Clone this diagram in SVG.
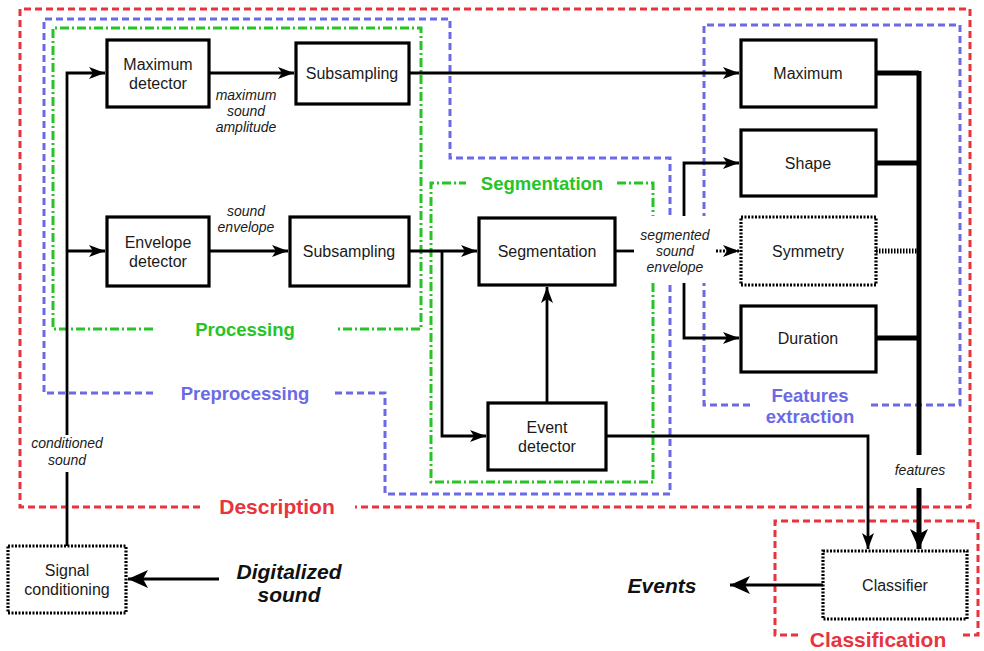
<svg xmlns="http://www.w3.org/2000/svg" width="984" height="651" viewBox="0 0 984 651">
<style>
.node{fill:#fff;stroke:#000;stroke-width:3.2}
.dot{fill:#fff;stroke:#000;stroke-width:3.2;stroke-dasharray:2 1.5}
.t{font-family:"Liberation Sans",Arial,sans-serif;font-size:16px;text-anchor:middle;fill:#1a1a1a}
.it{font-family:"Liberation Sans",Arial,sans-serif;font-size:14px;font-style:italic;text-anchor:middle;fill:#1a1a1a}
.big{font-family:"Liberation Sans",Arial,sans-serif;font-size:21px;font-style:italic;font-weight:bold;text-anchor:middle;fill:#111}
.red{fill:none;stroke:#e8343c;stroke-width:3;stroke-dasharray:7 4}
.blue{fill:none;stroke:#6a6ae6;stroke-width:3;stroke-dasharray:7 4}
.green{fill:none;stroke:#26c426;stroke-width:3;stroke-dasharray:9 3 2 3}
.gl{font-family:"Liberation Sans",Arial,sans-serif;font-weight:bold;text-anchor:middle}
.c{fill:none;stroke:#000;stroke-width:2.8}
.ct{fill:none;stroke:#000;stroke-width:5}
</style>
<defs>
<marker id="a" markerUnits="userSpaceOnUse" markerWidth="18" markerHeight="14" refX="16" refY="6" orient="auto" viewBox="0 0 18 14"><path d="M0,0 L16,6 L0,12 L4,6 z" fill="#000"/></marker>
<marker id="A" markerUnits="userSpaceOnUse" markerWidth="22" markerHeight="20" refX="20" refY="9" orient="auto" viewBox="0 0 22 20"><path d="M0,0 L20,9 L0,18 L5,9 z" fill="#000"/></marker>
</defs>
<rect width="984" height="651" fill="#fff"/>

<g id="groups">
<g id="description"><path class="red" d="M200,507 L20,507 L20,9 L970,9 L970,507 L355,507"/><text class="gl" x="277" y="514" font-size="21" fill="#e8343c">Description</text></g>
<g id="preprocessing"><path class="blue" d="M153,393 L44,393 L44,19 L450,19 L450,158 L670,158 L670,494 L385,494 L385,393 L335,393"/><text class="gl" x="245" y="400" font-size="18.5" fill="#6a6ae6">Preprocessing</text></g>
<g id="processing"><path class="green" d="M153,329 L53,329 L53,28 L421,28 L421,329 L335,329"/><text class="gl" x="245" y="336" font-size="18.5" fill="#26c426">Processing</text></g>
<g id="segmentation-group"><path class="green" d="M617,183 L653,183 L653,482 L431,482 L431,183 L466,183"/><text class="gl" x="542" y="190" font-size="18.5" fill="#26c426">Segmentation</text></g>
<g id="features-group"><path class="blue" d="M750,405 L704,405 L704,25 L960,25 L960,405 L870,405"/><text class="gl" x="810" y="402" font-size="18.5" fill="#6a6ae6">Features</text><text class="gl" x="810" y="423" font-size="18.5" fill="#6a6ae6">extraction</text></g>
<g id="classification"><path class="red" d="M798,635 L775,635 L775,521 L978,521 L978,635 L960,635"/><text class="gl" x="878" y="647" font-size="21" fill="#e8343c">Classification</text></g>
</g>

<g id="connectors">
<path class="c" d="M67,546 L67,472"/>
<path class="c" d="M67,435 L67,73 L105,73" marker-end="url(#a)"/>
<path class="c" d="M67,251 L105,251" marker-end="url(#a)"/>
<path class="c" d="M209,73 L294,73" marker-end="url(#a)"/>
<path class="c" d="M209,251 L288,251" marker-end="url(#a)"/>
<path class="c" d="M409,73 L739,73" marker-end="url(#a)"/>
<path class="c" d="M409,251 L477,251" marker-end="url(#a)"/>
<path class="c" d="M442,251 L442,436 L486,436" marker-end="url(#a)"/>
<path class="c" d="M547,403 L547,287" marker-end="url(#a)"/>
<path class="c" d="M606,436 L868,436 L868,549" marker-end="url(#a)"/>
<path class="c" d="M684,216 L684,163 L739,163" marker-end="url(#a)"/>
<path class="c" d="M684,283 L684,338 L739,338" marker-end="url(#a)"/>
<rect x="635" y="216" width="80" height="67" fill="#fff"/>
<path class="c" d="M615,251 L634,251"/>
<path class="c" d="M716,251 L739,251" stroke-dasharray="2 1.5" marker-end="url(#a)"/>
<path class="ct" d="M876,73 L919,73 M876,163 L919,163 M876,338 L919,338 M919,71 L919,455"/>
<path class="ct" d="M876,251 L917,251" stroke-dasharray="1.5 1.5"/>
<path class="ct" d="M919,488 L919,549" marker-end="url(#A)"/>
<path class="c" d="M219,579 L128,579" marker-end="url(#A)"/>
<path class="c" d="M823,585 L730,585" marker-end="url(#A)"/>
<text class="it" x="67" y="448">conditioned</text>
<text class="it" x="67" y="465">sound</text>
<text class="it" x="246" y="100">maximum</text>
<text class="it" x="246" y="116">sound</text>
<text class="it" x="246" y="132">amplitude</text>
<text class="it" x="246" y="216">sound</text>
<text class="it" x="246" y="232">envelope</text>
<text class="it" x="675" y="240">segmented</text>
<text class="it" x="675" y="256">sound</text>
<text class="it" x="675" y="272">envelope</text>
<text class="it" x="920" y="475">features</text>
</g>

<g id="maximum-detector"><rect class="node" x="107" y="40" width="102" height="67"/><text class="t" x="158" y="70">Maximum</text><text class="t" x="158" y="89">detector</text></g>
<g id="subsampling-1"><rect class="node" x="296" y="43" width="113" height="61"/><text class="t" x="352" y="79">Subsampling</text></g>
<g id="envelope-detector"><rect class="node" x="107" y="217" width="102" height="69"/><text class="t" x="158" y="248">Envelope</text><text class="t" x="158" y="267">detector</text></g>
<g id="subsampling-2"><rect class="node" x="290" y="217" width="119" height="69"/><text class="t" x="349" y="257">Subsampling</text></g>
<g id="segmentation"><rect class="node" x="479" y="218" width="136" height="67"/><text class="t" x="547" y="257">Segmentation</text></g>
<g id="event-detector"><rect class="node" x="488" y="403" width="118" height="67"/><text class="t" x="547" y="433">Event</text><text class="t" x="547" y="452">detector</text></g>
<g id="maximum"><rect class="node" x="741" y="40" width="135" height="67"/><text class="t" x="808" y="79">Maximum</text></g>
<g id="shape"><rect class="node" x="741" y="130" width="135" height="66"/><text class="t" x="808" y="169">Shape</text></g>
<g id="symmetry"><rect class="dot" x="741" y="217" width="135" height="68"/><text class="t" x="808" y="257">Symmetry</text></g>
<g id="duration"><rect class="node" x="741" y="306" width="135" height="66"/><text class="t" x="808" y="344">Duration</text></g>
<g id="signal-conditioning"><rect class="dot" x="8" y="546" width="118" height="67"/><text class="t" x="67" y="576">Signal</text><text class="t" x="67" y="595">conditioning</text></g>
<g id="classifier"><rect class="dot" x="823" y="551" width="144" height="68"/><text class="t" x="895" y="591">Classifier</text></g>
<g id="digitalized-sound"><text class="big" x="289" y="579">Digitalized</text><text class="big" x="289" y="602">sound</text></g>
<g id="events"><text class="big" x="662" y="593">Events</text></g>
</svg>
